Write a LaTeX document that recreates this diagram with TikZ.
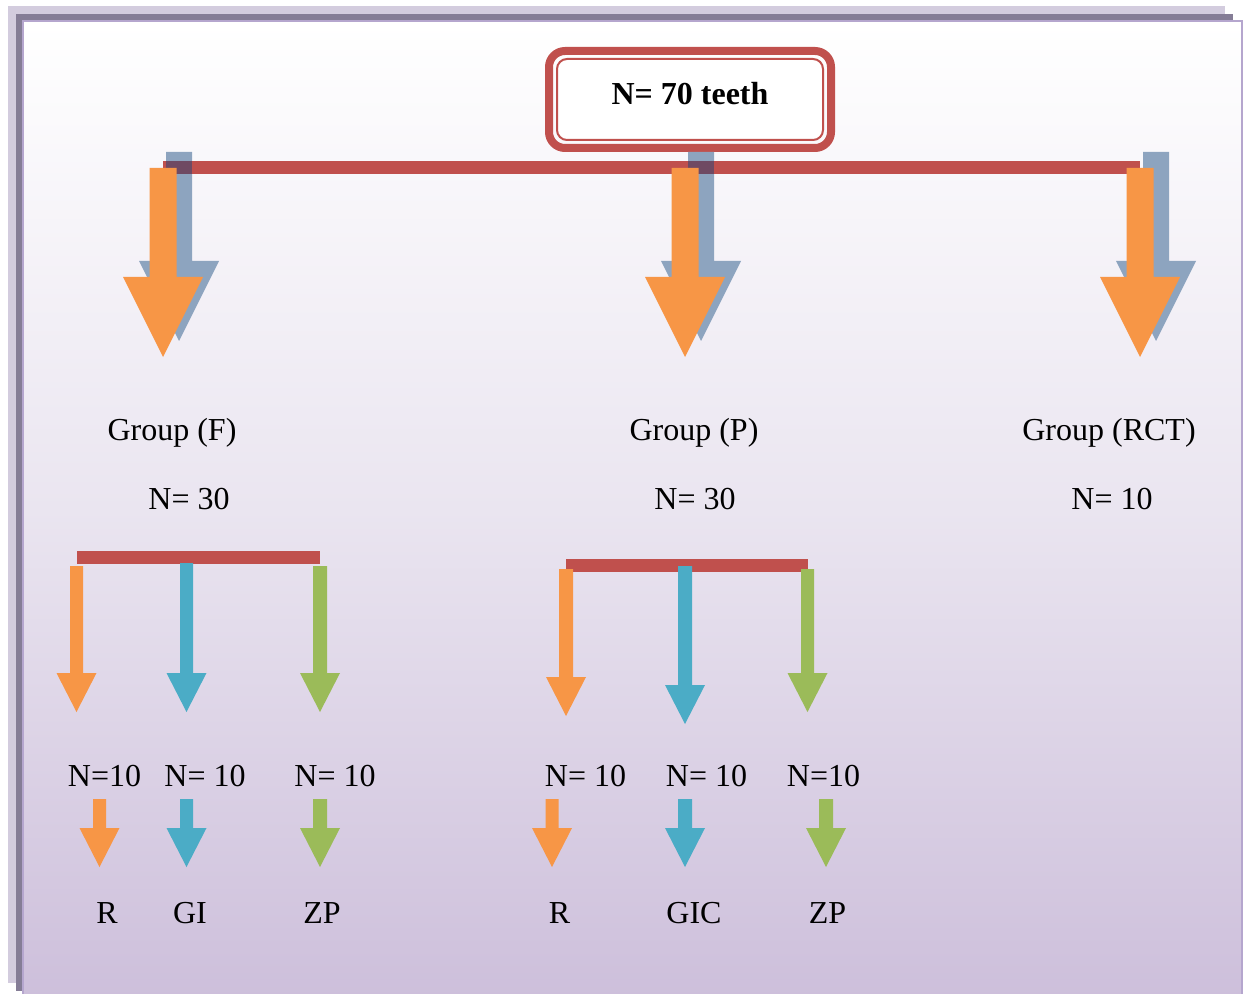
\documentclass[tikz,border=0pt]{standalone}
\usepackage{fontspec}
\setmainfont{Liberation Serif}
\usetikzlibrary{calc}

\definecolor{accOrange}{RGB}{247,150,70}
\definecolor{accBlue}{RGB}{75,172,198}
\definecolor{accGreen}{RGB}{155,187,89}
\definecolor{accRed}{RGB}{192,80,77}
\definecolor{shadowBlue}{RGB}{141,164,191}
\definecolor{overlapDark}{RGB}{111,74,99}
\definecolor{frameLight}{RGB}{211,204,222}
\definecolor{frameDark}{RGB}{133,125,150}
\definecolor{frameLine}{RGB}{181,166,206}
\definecolor{panelMid}{RGB}{234,229,240}
\definecolor{panelBottom}{RGB}{205,191,219}

% block arrow: colour, centre x, top y, head y, tip y, half shaft, half head
\newcommand{\blockarrow}[7]{%
  \fill[#1] (#2-#6,#3) -- (#2+#6,#3) -- (#2+#6,#4) -- (#2+#7,#4)
    -- (#2,#5) -- (#2-#7,#4) -- (#2-#6,#4) -- cycle;}

\begin{document}
\begin{tikzpicture}[x=0.5pt, y=-0.5pt,
    lbl/.style={font=\fontsize{16}{19}\selectfont, inner sep=0pt},
    topbox/.style={draw=accRed, line width=1pt, rounded corners=5pt, fill=white,
      minimum width=133pt, minimum height=40.5pt, text depth=6.5pt,
      font=\fontsize{16}{19}\selectfont\bfseries}]
    \useasboundingbox (0,0) rectangle (1246,994);

    % Frame and panel
    \fill[frameLight] (8,6) rectangle (1225,983);
    \fill[frameDark] (16,14) rectangle (1233,991);
    \shade[top color=white, bottom color=panelBottom, middle color=panelMid]
      (23,21) rectangle (1242,998);
    \draw[frameLine, line width=1pt] (23,21) rectangle (1242,998);

    % Top box
    \node[topbox] (nTotal) at (690,99.5) {N= 70 teeth};
    \draw[accRed, line width=4pt, rounded corners=8pt]
      ($(nTotal.north west)+(-7,-7)$) rectangle ($(nTotal.south east)+(7,7)$);

    % Shadows of the big arrows
    \foreach \cx in {179,701,1156}
      {\blockarrow{shadowBlue}{\cx}{152}{261}{341}{13}{40}}
    % Main bar
    \fill[accRed] (163,161) rectangle (1140,174);
    \fill[overlapDark] (166,161) rectangle (192,174);
    \fill[overlapDark] (688,161) rectangle (714,174);
    % Big arrows
    \foreach \cx in {163,685,1140}
      {\blockarrow{accOrange}{\cx}{168}{277}{357}{13.5}{40}}

    % Group labels
    \node[lbl] (grpF) at (172,433) {Group (F)};
    \node[lbl] (grpP) at (694,433) {Group (P)};
    \node[lbl] (grpRCT) at (1109,433) {Group (RCT)};
    \node[lbl] (nF) at (189,499) {N= 30};
    \node[lbl] (nP) at (695,499) {N= 30};
    \node[lbl] (nRCT) at (1112,499) {N= 10};

    % Sub bars
    \fill[accRed] (77,551) rectangle (320,564);
    \fill[accRed] (566,559) rectangle (808,572);
    % Sub arrows, group F
    \blockarrow{accOrange}{76.5}{566}{673}{712}{6.5}{20}
    \blockarrow{accBlue}{186.5}{563}{673}{712}{6.5}{20}
    \blockarrow{accGreen}{320}{566}{673}{712}{7}{20}
    % Sub arrows, group P
    \blockarrow{accOrange}{566}{569}{677}{716}{7}{20}
    \blockarrow{accBlue}{685}{566}{685}{724}{7}{20}
    \blockarrow{accGreen}{807.5}{569}{673}{712}{6.5}{20}

    % Sub counts
    \node[lbl] (nF1) at (104.5,776) {N=10};
    \node[lbl] (nF2) at (205,776) {N= 10};
    \node[lbl] (nF3) at (335,776) {N= 10};
    \node[lbl] (nP1) at (585.5,776) {N= 10};
    \node[lbl] (nP2) at (706.5,776) {N= 10};
    \node[lbl] (nP3) at (823.5,776) {N=10};

    % Small arrows
    \blockarrow{accOrange}{99.5}{799}{828}{867}{6.5}{20}
    \blockarrow{accBlue}{186.5}{799}{828}{867}{6.5}{20}
    \blockarrow{accGreen}{320}{799}{828}{867}{7}{20}
    \blockarrow{accOrange}{552}{799}{828}{867}{6.5}{20}
    \blockarrow{accBlue}{685}{799}{828}{867}{7}{20}
    \blockarrow{accGreen}{826}{799}{828}{867}{7}{20}

    % Materials
    \node[lbl] (matF1) at (107,913) {R};
    \node[lbl] (matF2) at (190,913) {GI};
    \node[lbl] (matF3) at (322,913) {ZP};
    \node[lbl] (matP1) at (559.5,913) {R};
    \node[lbl] (matP2) at (694,913) {GIC};
    \node[lbl] (matP3) at (827.5,913) {ZP};
\end{tikzpicture}
\end{document}
